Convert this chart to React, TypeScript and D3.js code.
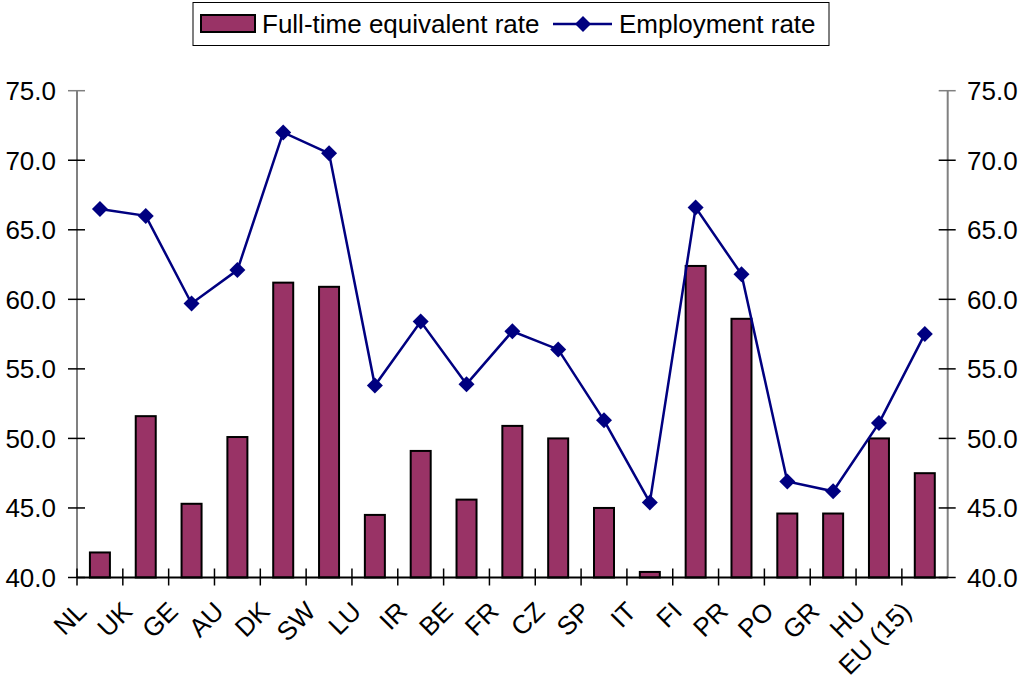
import React from "react";
import * as d3 from "d3";

const categories = ["NL", "UK", "GE", "AU", "DK", "SW", "LU", "IR", "BE", "FR", "CZ", "SP", "IT", "FI", "PR", "PO", "GR", "HU", "EU (15)"];
const fteRate = [41.8, 51.6, 45.3, 50.1, 61.2, 60.9, 44.5, 49.1, 45.6, 50.9, 50.0, 45.0, 40.4, 62.4, 58.6, 44.6, 44.6, 50.0, 47.5];
const employmentRate = [66.5, 66.0, 59.7, 62.1, 72.0, 70.5, 53.8, 58.4, 53.9, 57.7, 56.4, 51.3, 45.4, 66.6, 61.8, 46.9, 46.2, 51.1, 57.5];
const yTicks = [40, 45, 50, 55, 60, 65, 70, 75];

const W = 1020, H = 682;
const left = 77, right = 947.7, top = 90.7, bottom = 577.5;
const font = "Arial, 'Liberation Sans', sans-serif";

export default function App() {
  const x = d3.scaleBand<string>().domain(categories).range([left, right]).padding(0);
  const y = d3.scaleLinear().domain([40, 75]).range([bottom, top]);
  const bw = 20;
  const line = d3.line<number>()
    .x((_, i) => (x(categories[i]) as number) + x.bandwidth() / 2)
    .y((d) => y(d));
  const diamond = (cx: number, cy: number, r: number) =>
    `M${cx},${cy - r}L${cx + r},${cy}L${cx},${cy + r}L${cx - r},${cy}Z`;

  return (
    <svg width={W} height={H} style={{ position: "absolute", left: 0, top: 0, background: "#fff" }} fontFamily={font}>
      {/* legend */}
      <rect x={193} y={2.5} width={636} height={43} fill="#fff" stroke="#000" strokeWidth={1} />
      <rect x={201} y={15} width={54} height={17} fill="#993366" stroke="#000" strokeWidth={2} />
      <text x={262} y={33} fontSize={26} fill="#000">Full-time equivalent rate</text>
      <line x1={553} x2={612} y1={24} y2={24} stroke="#000080" strokeWidth={2.5} />
      <path d={diamond(583, 24, 8)} fill="#000080" />
      <text x={619} y={33} fontSize={26} fill="#000">Employment rate</text>

      {/* bars */}
      {fteRate.map((v, i) => {
        const cx = (x(categories[i]) as number) + x.bandwidth() / 2;
        return (
          <rect key={i} x={cx - bw / 2} y={y(v)} width={bw} height={bottom - y(v)}
            fill="#993366" stroke="#000" strokeWidth={2} />
        );
      })}

      {/* axes */}
      <line x1={left} x2={left} y1={top} y2={bottom} stroke="#808080" strokeWidth={2} />
      <line x1={right} x2={right} y1={top} y2={bottom} stroke="#808080" strokeWidth={2} />
      {yTicks.map((t) => (
        <g key={t}>
          <line x1={left - 9} x2={left + 8} y1={y(t)} y2={y(t)} stroke={t === 75 ? "#808080" : "#000"} strokeWidth={1.5} />
          <line x1={right - 9} x2={right + 8} y1={y(t)} y2={y(t)} stroke={t === 75 ? "#808080" : "#000"} strokeWidth={1.5} />
          <text x={56} y={y(t) + 9.5} fontSize={26} textAnchor="end" fill="#000">{t.toFixed(1)}</text>
          <text x={967} y={y(t) + 9.5} fontSize={26} textAnchor="start" fill="#000">{t.toFixed(1)}</text>
        </g>
      ))}
      <line x1={left} x2={right} y1={bottom} y2={bottom} stroke="#000" strokeWidth={2} />
      {categories.map((c, i) => {
        const bx = x(c) as number;
        return <line key={"t" + i} x1={bx} x2={bx} y1={bottom - 9} y2={bottom + 8} stroke="#000" strokeWidth={1.5} />;
      })}
      {categories.map((c, i) => {
        const cx = (x(c) as number) + x.bandwidth() / 2;
        const lx = cx - 12, ly = 613;
        return (
          <text key={"l" + i} x={lx} y={ly} fontSize={26} textAnchor="end" fill="#000"
            transform={`rotate(-45, ${lx}, ${ly})`}>{c}</text>
        );
      })}

      {/* line series */}
      <path d={line(employmentRate) as string} fill="none" stroke="#000080" strokeWidth={2.5} />
      {employmentRate.map((v, i) => {
        const cx = (x(categories[i]) as number) + x.bandwidth() / 2;
        return <path key={"d" + i} d={diamond(cx, y(v), 8)} fill="#000080" />;
      })}
    </svg>
  );
}
